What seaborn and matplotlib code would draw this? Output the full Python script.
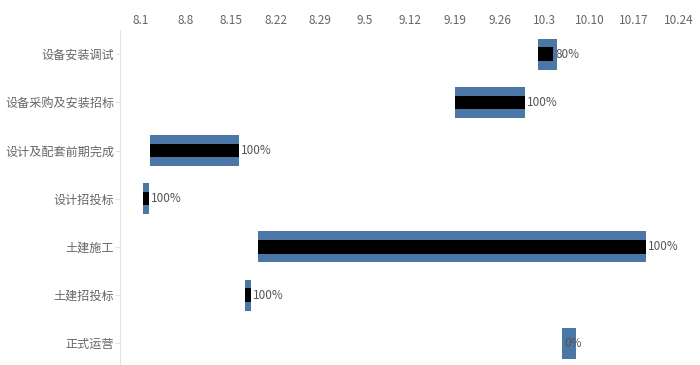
import matplotlib
matplotlib.use("Agg")
import matplotlib.pyplot as plt
import numpy as np
import pandas as pd
import seaborn as sns

# days counted from 8.1
tasks = ["设备安装调试", "设备采购及安装招标", "设计及配套前期完成", "设计招投标",
         "土建施工", "土建招投标", "正式运营"]
plan_start = [62.0, 49.0, 1.4, 0.3, 18.2, 16.2, 65.8]
plan_end = [64.9, 60.0, 15.3, 1.25, 78.8, 17.2, 67.9]
progress = [80, 100, 100, 100, 100, 100, 0]
tick_days = [0, 7, 14, 21, 28, 35, 42, 49, 56, 63, 70, 77, 84]
tick_labels = ["8.1", "8.8", "8.15", "8.22", "8.29", "9.5", "9.12", "9.19",
               "9.26", "10.3", "10.10", "10.17", "10.24"]

BLUE = "#4b77a6"
GREY = "#666666"


def main():
    df = pd.DataFrame({"task": tasks, "start": plan_start, "end": plan_end,
                       "progress": progress})
    df["dur"] = df["end"] - df["start"]
    df["done"] = df["dur"] * df["progress"] / 100

    sns.set_style("white")
    plt.rcParams["font.family"] = ["Noto Sans CJK SC", "DejaVu Sans"]

    fig = plt.figure(figsize=(7, 3.65), dpi=100)
    ax = fig.add_axes([120 / 700, 0, 580 / 700, 335 / 365])

    # planned span (blue) and completed part (black)
    sns.barplot(data=df, x="dur", y="task", order=tasks, orient="h",
                left=df["start"].to_numpy(), color=BLUE, saturation=1,
                width=0.64, errorbar=None, linewidth=0, ax=ax)
    sns.barplot(data=df, x="done", y="task", order=tasks, orient="h",
                left=df["start"].to_numpy(), color="black", saturation=1,
                width=0.28, errorbar=None, linewidth=0, ax=ax)

    for i, row in df.iterrows():
        ax.annotate(f"{row['progress']}%", (row["start"] + row["done"], i),
                    xytext=(1.5, 0), textcoords="offset points",
                    ha="left", va="center", fontsize=8.5, color="#555555")

    ax.set_xlim(-3.28, 87.28)
    ax.set_ylim(6.45, -0.5)
    ax.set_xlabel("")
    ax.set_ylabel("")
    ax.xaxis.tick_top()
    ax.set_xticks(tick_days)
    ax.set_xticklabels(tick_labels)
    ax.tick_params(axis="x", length=0, pad=2, labelsize=8.5, labelcolor=GREY)
    ax.tick_params(axis="y", left=True, length=3.6, width=0.8, pad=0.5,
                   color="#e3e3e3", labelsize=8.7, labelcolor=GREY)
    for side in ["top", "right", "bottom"]:
        ax.spines[side].set_visible(False)
    ax.spines["left"].set_color("#e3e3e3")
    ax.spines["left"].set_linewidth(0.8)

    fig.savefig("out.png", dpi=100)
    plt.close(fig)


if __name__ == "__main__":
    main()
